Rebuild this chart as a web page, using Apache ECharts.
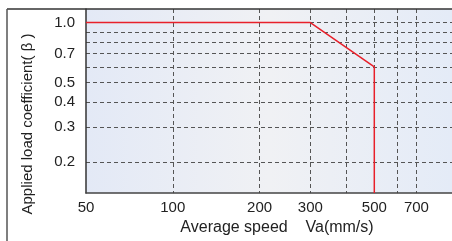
<!DOCTYPE html>
<html>
<head>
<meta charset="utf-8">
<script src="https://cdn.jsdelivr.net/npm/echarts@6/dist/echarts.min.js"></script>
<style>
  html, body { margin: 0; padding: 0; background: #fff; }
  #chart { width: 452px; height: 241px; }
</style>
</head>
<body>
<div id="chart"></div>
<script>
  // load curve: speed (mm/s) vs applied load coefficient
  const speeds = [50, 300, 500, 500];
  const coeffs = [1.0, 1.0, 0.6, 0.14];

  const xGrid = [100, 200, 300, 400, 500, 600, 700];
  const xLabels = [50, 100, 200, 300, 500, 700];
  const yGrid = [0.2, 0.3, 0.4, 0.5, 0.6, 0.7, 0.8, 0.9, 1.0];
  const yLabels = [0.2, 0.3, 0.4, 0.5, 0.7, 1.0];

  const font = 'Liberation Sans';
  let myChart = echarts.init(document.getElementById('chart'));

  myChart.setOption({
    animation: false,
    grid: {
      left: 86, right: 0, top: 9, bottom: 39,
      show: true,
      borderWidth: 0,
      backgroundColor: {
        type: 'linear', x: 0, y: 0, x2: 1, y2: 0,
        colorStops: [
          {offset: 0, color: '#e3e9f6'},
          {offset: 0.5, color: '#f0f1f4'},
          {offset: 1, color: '#e4ebf7'}
        ]
      }
    },
    xAxis: {
      type: 'log',
      min: 50,
      max: 930,
      name: 'Average speed    Va(mm/s)',
      nameLocation: 'middle',
      nameGap: 23,
      nameTextStyle: {fontFamily: font, fontSize: 16, color: '#222', padding: [0, 0, 0, 16]},
      axisLine: {show: true, lineStyle: {color: '#444', width: 1.5}},
      axisTick: {show: false, customValues: xGrid},
      axisLabel: {
        customValues: xLabels,
        fontFamily: font, fontSize: 15, color: '#222', margin: 7
      },
      splitLine: {show: true, lineStyle: {color: '#555', type: [4, 3], width: 1}}
    },
    yAxis: {
      type: 'log',
      min: 0.14,
      max: 1.17,
      axisLine: {show: true, lineStyle: {color: '#333', width: 1.5}},
      axisTick: {show: false, customValues: yGrid},
      axisLabel: {
        customValues: yLabels,
        formatter: v => v.toFixed(1),
        fontFamily: font, fontSize: 15, color: '#222', margin: 11
      },
      splitLine: {show: true, lineStyle: {color: '#555', type: [4, 3], width: 1}}
    },
    graphic: [
      {type: 'line', shape: {x1: 7, y1: 9, x2: 452, y2: 9}, style: {stroke: '#333', lineWidth: 1.5}, z: 100},
      {type: 'line', shape: {x1: 7, y1: 9, x2: 7, y2: 241}, style: {stroke: '#555', lineWidth: 1.5}, z: 100},
      {
        type: 'text', x: 28, y: 124, rotation: Math.PI / 2,
        style: {
          text: 'Applied load coefficient( β )', fontFamily: font, fontSize: 15,
          fill: '#222', align: 'center', verticalAlign: 'middle'
        }
      }
    ],
    series: [{
      type: 'line',
      data: speeds.map((s, i) => [s, coeffs[i]]),
      symbol: 'none',
      lineStyle: {color: '#e8202a', width: 1.5},
      z: 10
    }]
  });
</script>
</body>
</html>
